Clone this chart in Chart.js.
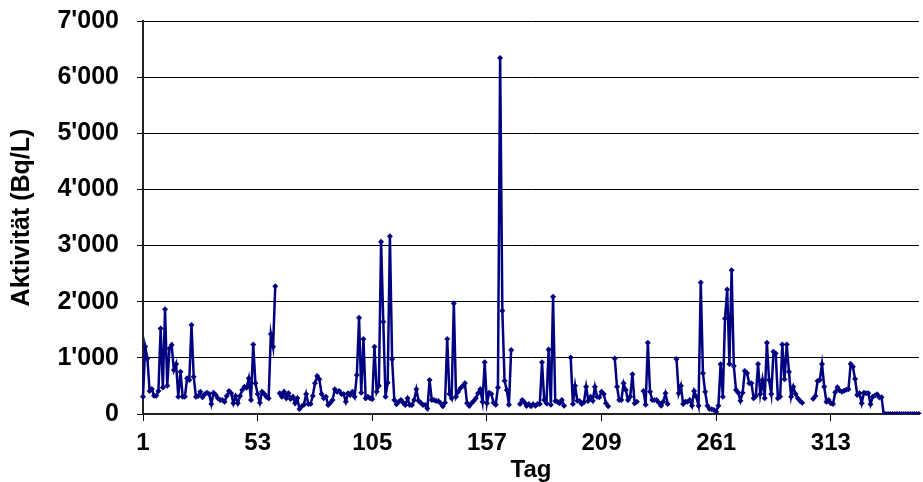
<!DOCTYPE html>
<html>
<head>
<meta charset="utf-8">
<script src="https://cdn.jsdelivr.net/npm/chart.js@4"></script>
<style>
  html, body { margin: 0; padding: 0; background: #fff; }
  canvas { display: block; }
</style>
</head>
<body>
<canvas id="aktChart" width="923" height="482"></canvas>
<script>
// daily activity in Bq/L, null = no measurement that day
const daysA = [308, 1198, 990, 410, 445, 326, 326, 410, 1524, 470,
    1868, 504, 1168, 1228, 783, 890, 308, 753, 308, 308,
    635, 605, 1584, 664, 308, 320, 397, 297, 350, 380,
    355, 178, 380, 340, 280, 250, 250, 220, 320, 410,
    370, 190, 320, 190, 320, 427, 486, 468, 635, 249,
    1240, 546, 356, 202, 397, 356, 308, 279, 1423, 1198,
    2277, null, 368, 308, 397, 279, 368, 267, 308, 190,
    279, 89, 136, 166, 356, 178, 178, 320, 546, 676,
    617, 356, 279, 308, 160, 201, 249, 439, 398, 409];

const daysB = [356, 356, 219, 368, 338, 398, 308, 694, 1713, 380,
    1334, 279, 308, 279, 267, 1198, 398, 504, 3066, 1642,
    308, 557, 3167, 973, 249, 172, 219, 249, 201, 160,
    279, 160, 160, 249, 439, 237, 200, 160, 160, 100,
    605, 249, 249, 231, 231, 190, 136, 200, 1334, 356,
    279, 1969, 308, 397, 457, 500, 546, 190, 142, 190,
    231, 279, 368, 439, 219, 920, 190, 380, 356, 202,
    166, 474, 6340, 1838, 593, 427, 166, 1139, null, null,
    null, 178, 249, 208, 142, 178, 136, 172, 148, 178];

const daysC = [178, 920, 249, 190, 1151, 166, 2087, 231, 219, 190,
    249, 148, null, null, 1008, 178, 504, 237, 231, 178,
    208, 486, 237, 308, 237, 486, 308, 300, 397, 356,
    190, 136, null, null, 990, 486, 249, 249, 546, 427,
    249, 308, 706, 190, 219, null, null, 409, 166, 1269,
    397, 249, 249, 249, 202, 148, 219, 368, 178, null,
    null, null, 978, 368, 504, 178, 219, 219, 249, 148,
    409, 308, 148, 2343, 724, 397, 148, 89, 83, 71,
    42, 148, 884, 308, 1702, 2218, 890, 2562, 854, 427];

const daysD = [380, 237, 380, 765, 724, 546, 546, 279, 320, 890,
    356, 605, 279, 1269, 605, 356, 1109, 1079, 279, 308,
    1240, 617, 1240, 753, 308, 486, 356, 279, 237, 202,
    null, null, null, null, 273, 320, 587, 605, 890, 486,
    219, 250, 190, 178, 386, 475, 420, 397, 415, 430,
    439, 890, 842, 623, 338, 368, 190, 380, 370, 368,
    172, 308, 330, 350, 296, 300, 0, 0, 0, 0,
    0, 0, 0, 0, 0, 0, 0, 0, 0, 0,
    0, 0, 0];

const tickDays = [1, 53, 105, 157, 209, 261, 313];

const activity = daysA.concat(daysB, daysC, daysD);
const days = activity.map((v, i) => i + 1);

function swissNumber(v) {
    return String(v).replace(/\B(?=(\d{3})+(?!\d))/g, "'");
}

const navy = "#000080";
const fam = "Arial, 'Liberation Sans', sans-serif";

let ctx = document.getElementById("aktChart").getContext("2d");

let aktChart = new Chart(ctx, {
    type: "line",
    data: {
        labels: days,
        datasets: [{
            label: "Aktivität",
            data: activity,
            borderColor: navy,
            backgroundColor: navy,
            borderWidth: 2.5,
            pointStyle: "rectRot",
            pointRadius: 3,
            pointBorderWidth: 0,
            spanGaps: false,
            tension: 0
        }]
    },
    options: {
        responsive: false,
        animation: false,
        devicePixelRatio: 1,
        layout: { padding: 0 },
        plugins: {
            legend: { display: false },
            tooltip: { enabled: false }
        },
        scales: {
            x: {
                type: "category",
                offset: false,
                grid: { drawOnChartArea: false, drawTicks: true, tickLength: 7, color: "#000" },
                border: { color: "#222", width: 2 },
                afterBuildTicks: scale => {
                    scale.ticks = scale.ticks.filter(t => tickDays.includes(days[t.value]));
                },
                ticks: {
                    autoSkip: false,
                    maxRotation: 0,
                    padding: 8,
                    color: "#000",
                    font: { family: fam, size: 24, weight: "bold" }
                },
                title: {
                    display: true,
                    text: "Tag",
                    color: "#000",
                    font: { family: fam, size: 24, weight: "bold", lineHeight: 1 },
                    padding: 0
                },
                afterFit: scale => { scale.height = 68; }
            },
            y: {
                min: 0,
                max: 7000,
                grid: { color: "#000", lineWidth: 1, tickLength: 6 },
                border: { color: "#222", width: 2 },
                ticks: {
                    stepSize: 1000,
                    padding: 18,
                    color: "#000",
                    font: { family: fam, size: 25, weight: "bold" },
                    callback: v => swissNumber(v)
                },
                title: {
                    display: true,
                    text: "Aktivität (Bq/L)",
                    color: "#000",
                    font: { family: fam, size: 25, weight: "bold", lineHeight: 1 },
                    padding: { top: 10, bottom: 0 }
                },
                afterFit: scale => {
                    scale.width = 143;
                    scale.paddingTop = 21;
                    scale.paddingBottom = 0;
                }
            }
        }
    }
});
</script>
</body>
</html>
